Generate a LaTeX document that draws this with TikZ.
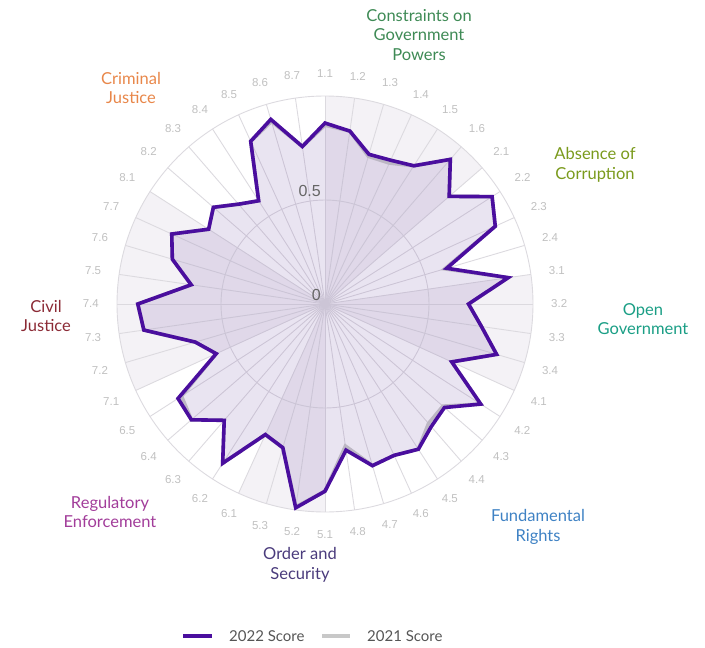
\documentclass[tikz,border=0pt]{standalone}
\usepackage{fontspec}
\setmainfont{Lato}
\newfontfamily\numfont{Liberation Sans}
\usepackage{xcolor}
\usepackage{tikz}

\definecolor{sectorgray}{HTML}{F4F2F6}
\definecolor{gridgray}{HTML}{DCDADF}
\definecolor{itemgray}{HTML}{C0C0C0}
\definecolor{tickgray}{HTML}{666666}
\definecolor{purple22}{HTML}{4A0E9E}
\definecolor{gray21}{HTML}{C8C8C8}
\definecolor{legendtext}{HTML}{555555}
\definecolor{cConstr}{HTML}{3E8A55}
\definecolor{cCorrupt}{HTML}{7A9A1C}
\definecolor{cOpen}{HTML}{1A9E85}
\definecolor{cRights}{HTML}{3F82C4}
\definecolor{cOrder}{HTML}{4A3B7C}
\definecolor{cRegul}{HTML}{A23D9A}
\definecolor{cCivil}{HTML}{8B2A35}
\definecolor{cCrim}{HTML}{E8874A}

\begin{document}
\begin{tikzpicture}[x=1pt,y=1pt,
    sector/.style={fill=sectorgray},
    grid/.style={draw=gridgray, line width=0.9pt},
    score22/.style={draw=purple22, line width=3.6pt, fill=purple22, fill opacity=0.09, draw opacity=1},
    score21/.style={draw=gray21, line width=3.6pt, fill=gray21, fill opacity=0.1, draw opacity=1},
    itemlabel/.style={inner sep=1pt, text=itemgray, font=\numfont\fontsize{11.5}{13}\selectfont},
    ticklabel/.style={inner sep=0pt, text=tickgray, font=\numfont\fontsize{16}{18}\selectfont},
    pillar/.style={align=center, font=\fontsize{16.5}{19.5}\selectfont},
    legend/.style={anchor=west, inner sep=0pt, text=legendtext, font=\fontsize{15}{17}\selectfont}]

    \useasboundingbox (0,0) rectangle (705,-648);

    \begin{scope}[shift={(325,-304)}]
        % Shaded sectors behind pillars 1, 3, 5 and 7
        \foreach \s/\e in {0/6,10/14,22/25,30/37}{
            \pgfmathsetmacro\sa{90-\s*360/44}
            \pgfmathsetmacro\ea{90-\e*360/44}
            \fill[sector] (0,0) -- (\sa:208) arc[start angle=\sa, end angle=\ea, radius=208] -- cycle;
        }

        % Scores 2021
        \foreach \v [count=\i from 0] in {0.86,0.84,0.74,0.745,0.79,0.92,0.79,0.955,0.90,0.60,
                                          0.89,0.69,0.76,0.86,0.67,0.89,0.75,0.76,0.83,0.80,
                                          0.81,0.69,0.90,0.985,0.72,0.69,0.91,0.74,0.85,0.82,
                                          0.575,0.65,0.88,0.90,0.65,0.765,0.81,0.665,0.71,0.635,
                                          0.59,0.86,0.915,0.765}{
            \coordinate (b\i) at ({90-\i*360/44}:{\v*208});
        }
        % Scores 2022
        \foreach \v [count=\i from 0] in {0.87,0.84,0.75,0.76,0.79,0.92,0.79,0.955,0.90,0.61,
                                          0.89,0.69,0.76,0.86,0.67,0.89,0.76,0.78,0.83,0.80,
                                          0.81,0.71,0.90,0.99,0.72,0.69,0.91,0.74,0.85,0.84,
                                          0.575,0.65,0.88,0.90,0.65,0.765,0.81,0.665,0.71,0.635,
                                          0.59,0.86,0.925,0.765}{
            \coordinate (a\i) at ({90-\i*360/44}:{\v*208});
        }

        % Grid: spokes and rings
        \foreach \k in {0,...,43}{
            \draw[grid] (0,0) -- ({90-\k*360/44}:208);
        }
        \draw[grid] (0,0) circle (104);
        \draw[grid] (0,0) circle (208);

        % Score polygons
        \draw[score21] (b0) \foreach \i in {1,...,43}{ -- (b\i)} -- cycle;
        \draw[score22] (a0) \foreach \i in {1,...,43}{ -- (a\i)} -- cycle;

        % Item labels
        \foreach \lbl [count=\i from 0] in {1.1,1.2,1.3,1.4,1.5,1.6,2.1,2.2,2.3,2.4,3.1,3.2,3.3,3.4,
                                            4.1,4.2,4.3,4.4,4.5,4.6,4.7,4.8,5.1,5.2,5.3,6.1,6.2,6.3,6.4,6.5,
                                            7.1,7.2,7.3,7.4,7.5,7.6,7.7,8.1,8.2,8.3,8.4,8.5,8.6,8.7}{
            \pgfmathsetmacro\ang{90-\i*360/44}
            \pgfmathsetmacro\opp{270-\i*360/44}
            \node[itemlabel, anchor=\opp] (item\i) at (\ang:225) {\lbl};
        }

        % Scale labels
        \node[ticklabel, anchor=south east] (tick0) at (-4,3) {0};
        \node[ticklabel, anchor=south east] (tick05) at (-4,107) {0.5};
    \end{scope}

    % Pillar labels
    \node[pillar, text=cConstr] (constr) at (419,-35) {Constraints on\\Government\\Powers};
    \node[pillar, text=cCorrupt] (corrupt) at (595,-165) {Absence of\\Corruption};
    \node[pillar, text=cOpen] (open) at (643,-319) {Open\\Government};
    \node[pillar, text=cRights] (rights) at (538,-527) {Fundamental\\Rights};
    \node[pillar, text=cOrder] (order) at (300,-565) {Order and\\Security};
    \node[pillar, text=cRegul] (regul) at (110,-512) {Regulatory\\Enforcement};
    \node[pillar, text=cCivil] (civil) at (46,-316) {Civil\\Justice};
    \node[pillar, text=cCrim] (crim) at (131,-88) {Criminal\\Justice};

    % Legend
    \node[legend] (leg22) at (229,-636) {2022 Score};
    \node[legend] (leg21) at (367,-636) {2021 Score};
    \draw[draw=purple22, line width=3.6pt] ([xshift=-46pt]leg22.west) -- ([xshift=-17pt]leg22.west);
    \draw[draw=gray21, line width=3.6pt] ([xshift=-45pt]leg21.west) -- ([xshift=-17pt]leg21.west);
\end{tikzpicture}
\end{document}
